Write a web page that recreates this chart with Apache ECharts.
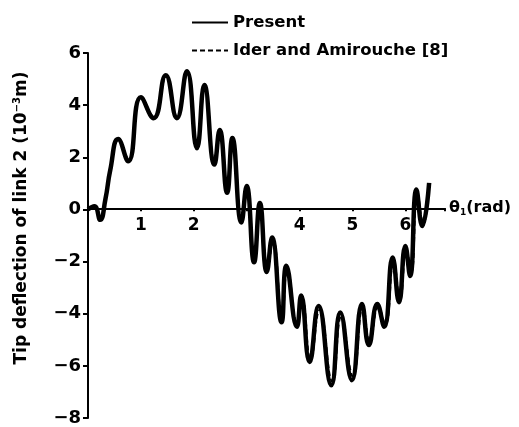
<!DOCTYPE html>
<html>
<head>
<meta charset="utf-8">
<script src="https://cdn.jsdelivr.net/npm/echarts@6/dist/echarts.min.js"></script>
<style>
  html, body { margin: 0; padding: 0; background: #fff; }
  #chart { width: 519px; height: 427px; }
</style>
</head>
<body>
<div id="chart"></div>
<script>
// values: [theta (rad), deflection (1e-3 m)]
var presentData = [
    [0, 0], [0.12, 0.12], [0.23, -0.4], [0.33, 0.4], [0.42, 1.5], [0.57, 2.7],
    [0.76, 1.85], [1.0, 4.3], [1.24, 3.5], [1.47, 5.15], [1.68, 3.5], [1.87, 5.3],
    [2.06, 2.35], [2.2, 4.77], [2.39, 1.72], [2.49, 3.05], [2.63, 0.64], [2.73, 2.74],
    [2.9, -0.5], [3.0, 0.9], [3.14, -2.03], [3.25, 0.25], [3.38, -2.4], [3.48, -1.08],
    [3.66, -4.33], [3.75, -2.16], [3.95, -4.5], [4.03, -3.3], [4.19, -5.85], [4.36, -3.7],
    [4.6, -6.74], [4.77, -3.95], [4.99, -6.55], [5.18, -3.63], [5.31, -5.2], [5.47, -3.63],
    [5.6, -4.5], [5.76, -1.84], [5.88, -3.56], [6.0, -1.4], [6.09, -2.55], [6.21, 0.76],
    [6.32, -0.64], [6.45, 1.02]
];
var iderData = [
    [0, 0], [0.12, 0.1], [0.23, -0.38], [0.33, 0.4], [0.42, 1.45], [0.58, 2.65],
    [0.77, 1.9], [1.0, 4.25], [1.25, 3.55], [1.48, 5.1], [1.69, 3.55], [1.88, 5.25],
    [2.07, 2.4], [2.21, 4.7], [2.4, 1.8], [2.5, 2.9], [2.64, 0.7], [2.74, 2.65],
    [2.91, -0.45], [3.01, 0.8], [3.15, -1.95], [3.26, 0.15], [3.39, -2.3], [3.5, -1.2],
    [3.67, -4.2], [3.77, -2.3], [3.96, -4.4], [4.05, -3.45], [4.21, -5.75], [4.38, -3.85],
    [4.62, -6.6], [4.79, -4.1], [5.01, -6.4], [5.2, -3.75], [5.33, -5.1], [5.49, -3.75],
    [5.62, -4.4], [5.78, -2.0], [5.9, -3.45], [6.02, -1.55], [6.11, -2.45], [6.23, 0.6],
    [6.34, -0.55], [6.45, 0.95]
];
var yTicks = [-8, -6, -4, -2, 0, 2, 4, 6];
var xTickLabels = ['', '1', '2', '', '4', '5', '6'];

var FONT = 'DejaVu Sans';
var Y_MIN = -8, Y_MAX = 6;
var GRID_TOP = 53, GRID_BOTTOM = 7;
// put the x axis on the y = 0 line (labels included)
var gridHeight = 427 - GRID_TOP - GRID_BOTTOM;
var xAxisOffset = -gridHeight * (0 - Y_MIN) / (Y_MAX - Y_MIN);

var chart = echarts.init(document.getElementById('chart'));

var option = {
    animation: false,
    backgroundColor: '#fff',
    textStyle: { fontFamily: FONT, color: '#000' },
    legend: {
        orient: 'vertical',
        left: 186,
        top: 9,
        itemWidth: 36,
        itemHeight: 14,
        itemGap: 11,
        itemStyle: { opacity: 0 },
        textStyle: { fontFamily: FONT, fontSize: 16.5, fontWeight: 'bold', color: '#000' },
        data: ['Present', 'Ider and Amirouche [8]']
    },
    grid: { left: 88, top: GRID_TOP, right: 74, bottom: GRID_BOTTOM },
    xAxis: {
        type: 'value',
        min: 0,
        max: 6.75,
        interval: 1,
        position: 'bottom',
        offset: xAxisOffset,
        splitLine: { show: false },
        axisLine: { onZero: false, lineStyle: { color: '#000', width: 2 } },
        axisTick: { length: 3, lineStyle: { color: '#000', width: 2 } },
        axisLabel: {
            margin: 9,
            fontSize: 17,
            fontWeight: 'bold',
            color: '#000',
            formatter: function (v) {
                var i = Math.round(v);
                return (Math.abs(v - i) < 1e-6 && xTickLabels[i]) ? xTickLabels[i] : '';
            }
        },
        name: '{t|θ}{s|1}{t|(rad)}',
        nameLocation: 'end',
        nameGap: 4,
        nameTextStyle: {
            rich: {
                t: { fontFamily: FONT, fontSize: 16, fontWeight: 'bold', color: '#000' },
                s: { fontFamily: FONT, fontSize: 9, fontWeight: 'bold', color: '#000', padding: [8, 0, 0, 0] }
            }
        }
    },
    yAxis: {
        type: 'value',
        min: Y_MIN,
        max: Y_MAX,
        interval: 2,
        splitLine: { show: false },
        axisLine: { onZero: false, lineStyle: { color: '#000', width: 2 } },
        axisTick: { length: 5, lineStyle: { color: '#000', width: 2 } },
        axisLabel: {
            margin: 7,
            fontSize: 18,
            fontWeight: 'bold',
            color: '#000',
            formatter: function (v) {
                return String(v).replace('-', '\u2212');
            }
        }
    },
    graphic: [{
        type: 'text',
        x: 22,
        y: 218,
        rotation: Math.PI / 2,
        style: {
            text: '{t|Tip deflection of link 2 (10}{s|\u22123}{t|m)}',
            align: 'center',
            verticalAlign: 'middle',
            rich: {
                t: { fontFamily: FONT, fontSize: 17, fontWeight: 'bold', fill: '#000' },
                s: { fontFamily: FONT, fontSize: 10, fontWeight: 'bold', fill: '#000', padding: [0, 0, 9, 0] }
            }
        }
    }],
    series: [
        {
            name: 'Present',
            type: 'line',
            data: presentData,
            smooth: 0.5,
            showSymbol: false,
            symbol: 'none',
            lineStyle: { color: '#000', width: 4.5 },
            itemStyle: { color: '#000' },
            z: 2
        },
        {
            name: 'Ider and Amirouche [8]',
            type: 'line',
            data: iderData,
            smooth: 0.5,
            showSymbol: false,
            symbol: 'none',
            lineStyle: { color: '#000', width: 2, type: [5, 3] },
            itemStyle: { color: '#000' },
            z: 3
        }
    ]
};
chart.setOption(option);
</script>
</body>
</html>
